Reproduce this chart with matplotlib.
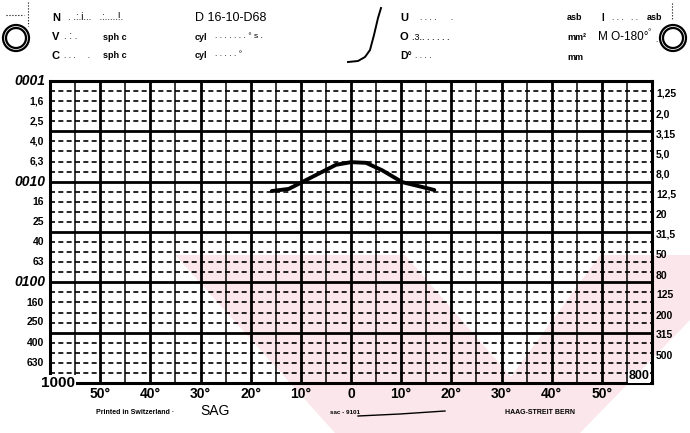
import matplotlib
matplotlib.use("Agg")
import matplotlib.pyplot as plt
import matplotlib.patches as mpatches

# isopter profile (degrees, stimulus value)
curve_deg = [-15.8, -12.4, -7, -3, 0, 3, 6.2, 10.2, 14.2, 16.6]
curve_val = [12.4, 11.8, 8.6, 6.8, 6.4, 6.5, 7.7, 10.1, 11.3, 12.1]

x_ticks = [-50, -40, -30, -20, -10, 0, 10, 20, 30, 40, 50]
x_labels = ["50°", "40°", "30°", "20°", "10°", "0", "10°", "20°", "30°", "40°", "50°"]

left_vals = [1.6, 2.5, 4.0, 6.3, 16, 25, 40, 63, 160, 250, 400, 630]
left_labels = ["1,6", "2,5", "4,0", "6,3", "16", "25", "40", "63", "160", "250", "400", "630"]
left_major = [1, 10, 100, 1000]
left_major_labels = ["0001", "0010", "0100", "1000"]

right_vals = [1.25, 2.0, 3.15, 5.0, 8.0, 12.5, 20, 31.5, 50, 80, 125, 200, 315, 500, 800]
right_labels = ["1,25", "2,0", "3,15", "5,0", "8,0", "12,5", "20", "31,5", "50", "80",
                "125", "200", "315", "500", "800"]

W, H = 690, 433
FONT = "Liberation Sans"

fig = plt.figure(figsize=(W / 100, H / 100), dpi=100)
fig.patch.set_facecolor("white")


def ft(x, y, s, size=8, weight="bold", ha="left", va="center", **kw):
    fig.text(x / W, 1 - y / H, s, fontsize=size, fontweight=weight, ha=ha, va=va,
             family=FONT, color="black", **kw)


def fig_poly(pts, **kw):
    p = mpatches.Polygon([(x / W, 1 - y / H) for x, y in pts], closed=True,
                         transform=fig.transFigure, **kw)
    fig.patches.append(p)


# faint pink watermark behind the grid
pink = "#fbe7eb"
fig_poly([(175, 255), (405, 255), (560, 433), (335, 433)], color=pink, lw=0, zorder=-5)
fig_poly([(600, 255), (690, 255), (690, 320), (580, 433), (470, 433)], color=pink, lw=0, zorder=-5)

ax = fig.add_axes([50 / W, 1 - 383 / H, 602 / W, 302 / H])
ax.set_zorder(1)
ax.patch.set_alpha(0)
ax.set_xlim(-60, 60)
ax.set_yscale("log")
ax.set_ylim(1000, 1)
ax.set_xticks([])
ax.set_yticks([])
ax.minorticks_off()
for s in ax.spines.values():
    s.set_linewidth(2.2)

# horizontal grid: thick every half decade, dashed every tenth of a decade
for k in range(31):
    v = 10 ** (k / 10)
    if k % 5 == 0:
        ax.axhline(v, color="black", lw=2.0, zorder=2)
    else:
        ax.axhline(v, color="black", lw=1.2, ls=(0, (3, 2)), zorder=2)

# vertical grid: every 5 deg, thicker every 10 deg
for d in range(-55, 60, 5):
    ax.axvline(d, color="black", lw=2.0 if d % 10 == 0 else 1.1, zorder=2)

ax.plot(curve_deg, curve_val, color="black", lw=2.8, solid_capstyle="round", zorder=3)

for v, lab in zip(left_vals, left_labels):
    ax.text(-61.2, v, lab, ha="right", va="center", fontsize=7.5, fontweight="bold", family=FONT)
for v, lab in zip(left_major[:3], left_major_labels[:3]):
    ax.text(-61.0, v, lab, ha="right", va="center", fontsize=10, fontweight="bold",
            style="italic", family=FONT)
ax.text(-55.0, 1000, left_major_labels[3], ha="right", va="center", fontsize=11,
        fontweight="bold", family=FONT, zorder=5,
        bbox=dict(facecolor="white", edgecolor="none", pad=0.5))

for v, lab in zip(right_vals[:-1], right_labels[:-1]):
    ax.text(60.8, v * 1.07, lab, ha="left", va="center", fontsize=7.5, fontweight="bold", family=FONT)
ax.text(55.3, 800 * 1.07, right_labels[-1], ha="left", va="center", fontsize=9,
        fontweight="bold", family=FONT, zorder=5,
        bbox=dict(facecolor="white", edgecolor="none", pad=0.3))

for d, lab in zip(x_ticks, x_labels):
    ax.text(d, 1000 * 10 ** 0.11, lab, ha="center", va="center", fontsize=10,
            fontweight="bold", family=FONT)

# header
ft(52, 18, "N", 8)
ft(68, 17, ". .:.i...   .:.....!.", 7, weight="normal")
ft(195, 18, "D 16-10-D68", 9, weight="normal")
ft(52, 37, "V", 8)
ft(64, 36, ". : .", 7, weight="normal")
ft(103, 37, "sph c", 6.5)
ft(195, 37, "cyl", 6.5)
ft(215, 36, ". . . . . . . ° s .", 6, weight="normal")
ft(52, 56, "C", 8)
ft(64, 56, ". . .     .", 6, weight="normal")
ft(103, 56, "sph c", 6.5)
ft(195, 56, "cyl", 6.5)
ft(215, 55, ". . . . . °", 6, weight="normal")

ft(400, 18, "U", 8)
ft(420, 18, ". . . .      .", 6, weight="normal")
ft(567, 18, "asb", 6.5)
ft(601, 18, "I", 7)
ft(612, 18, ". . .   . .", 6, weight="normal")
ft(647, 18, "asb", 6.5)
ft(400, 37, "O", 8)
ft(412, 37, ".3.. . . . . .", 6.5, weight="normal")
ft(567, 38, "mm²", 6.5)
ft(598, 37, "M O-180°", 8.5, weight="normal")
ft(648, 33, "°", 6, weight="normal")
ft(655, 40, ".", 6, weight="normal")
ft(400, 56, "D°", 7.5)
ft(415, 57, ". . . .", 6, weight="normal")
ft(567, 57, "mm", 6.5)

# small pen stroke near the middle of the header
px = [348, 358, 365, 370, 374, 378, 381]
py = [62, 61, 57, 50, 35, 18, 8]
fig.add_artist(plt.Line2D([x / W for x in px], [1 - y / H for y in py],
                          color="black", lw=1.4, transform=fig.transFigure))

# eye symbols
for cx in (16, 673):
    for r, lw in ((13, 1.6), (10, 1.6)):
        fig.add_artist(mpatches.Ellipse((cx / W, 1 - 38 / H), 2 * r / W, 2 * r / H,
                                        fill=False, lw=lw, color="black",
                                        transform=fig.transFigure))
fig.add_artist(plt.Line2D([28 / W, 28 / W], [1 - 2 / H, 1 - 26 / H], color="black",
                          lw=0.8, ls=":", transform=fig.transFigure))
fig.add_artist(plt.Line2D([6 / W, 24 / W], [1 - 15 / H, 1 - 15 / H], color="black",
                          lw=0.8, ls=":", transform=fig.transFigure))
fig.add_artist(plt.Line2D([672 / W, 672 / W], [1 - 3 / H, 1 - 20 / H], color="black",
                          lw=0.8, ls=":", transform=fig.transFigure))

# footer
ft(96, 413, "Printed in Switzerland ·", 5, va="center")
ft(200, 411, "SAG", 10, weight="normal")
ft(330, 413, "sac - 9101", 4.5)
fig.add_artist(plt.Line2D([358 / W, 400 / W, 445 / W], [1 - 416 / H, 1 - 414 / H, 1 - 411 / H],
                          color="black", lw=1.0, transform=fig.transFigure))
ft(505, 412, "HAAG-STREIT BERN", 5)

fig.savefig("out.png", dpi=100)
